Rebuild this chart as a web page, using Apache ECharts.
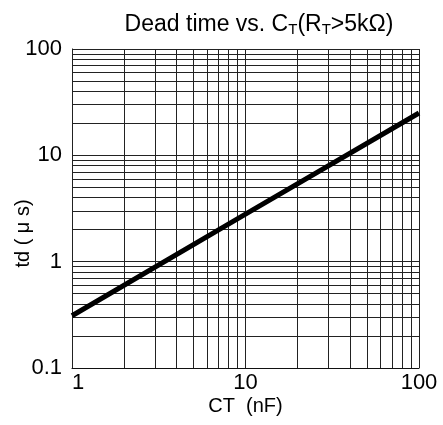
<!DOCTYPE html>
<html>
<head>
<meta charset="utf-8">
<script src="https://cdn.jsdelivr.net/npm/echarts@6/dist/echarts.min.js"></script>
<style>html,body{margin:0;padding:0;background:#fff}#c{width:443px;height:425px}</style>
</head>
<body>
<div id="c"></div>
<script>
// Data
var ctValues = [1, 10, 100];            // CT (nF)
var tdValues = [0.31, 2.8, 25];         // td (μs)
var xGridValues = [1,2,3,4,5,6,7,8,9,10,20,30,40,50,60,70,80,90,100];
var yGridValues = [0.1,0.2,0.3,0.4,0.5,0.6,0.7,0.8,0.9,1,2,3,4,5,6,7,8,9,10,20,30,40,50,60,70,80,90,100];

var font = 'Liberation Sans, Arial, sans-serif';
var chart = echarts.init(document.getElementById('c'));
var xMin = 1, xMax = 100, yMin = 0.1, yMax = 100;
var gridSegs = xGridValues.map(function(v){return {coords: [[v, yMin], [v, yMax]]};})
  .concat(yGridValues.map(function(v){return {coords: [[xMin, v], [xMax, v]]};}));

chart.setOption({
  animation: false,
  backgroundColor: '#fff',
  title: {
    text: 'Dead time vs. C{s|T}(R{s|T}>5kΩ)',
    left: 254, top: 7, textAlign: 'center',
    textStyle: {
      fontFamily: font, fontSize: 23, fontWeight: 'normal', color: '#000',
      rich: {
        s: {fontFamily: font, fontSize: 15, color: '#000', verticalAlign: 'bottom', padding: [10, 0, 0, 0]}
      }
    }
  },
  grid: {left: 72, right: 24, top: 49, bottom: 57, containLabel: false, outerBoundsMode: 'none'},
  xAxis: {
    type: 'log', logBase: 10, min: xMin, max: xMax,
    name: 'CT  (nF)', nameLocation: 'middle', nameGap: 28, nameMoveOverlap: false,
    nameTextStyle: {fontFamily: font, fontSize: 20, color: '#000'},
    axisLine: {show: true, lineStyle: {color: '#000', width: 1}},
    axisTick: {show: false},
    axisLabel: {fontFamily: font, fontSize: 22, color: '#000', margin: 4, alignMinLabel: 'left'},
    splitLine: {show: false}
  },
  yAxis: {
    type: 'log', logBase: 10, min: yMin, max: yMax,
    name: 'td ( μ s){p|}', nameLocation: 'middle', nameGap: 39, nameRotate: 90, nameMoveOverlap: false,
    nameTextStyle: {fontFamily: font, fontSize: 20, color: '#000',
      rich: {p: {width: 50, fontSize: 20}}},
    axisLine: {show: true, lineStyle: {color: '#000', width: 1}},
    axisTick: {show: false},
    axisLabel: {fontFamily: font, fontSize: 22, color: '#000', margin: 10},
    splitLine: {show: false}
  },
  series: [
    {
      type: 'lines', coordinateSystem: 'cartesian2d', z: 1, silent: true,
      polyline: false, effect: {show: false},
      lineStyle: {color: '#222', width: 1, opacity: 1, type: 'solid'},
      data: gridSegs
    },
    {
      type: 'line', z: 5, symbol: 'none', silent: true,
      lineStyle: {color: '#000', width: 5},
      data: ctValues.map(function(x, i){ return [x, tdValues[i]]; })
    }
  ]
});
</script>
</body>
</html>
